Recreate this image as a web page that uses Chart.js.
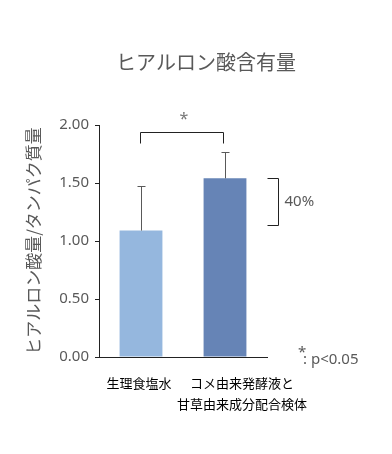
<!DOCTYPE html>
<html>
<head>
<meta charset="utf-8">
<script src="https://cdn.jsdelivr.net/npm/chart.js@4.4.1/dist/chart.umd.min.js"></script>
<style>
  html, body { margin: 0; padding: 0; background: #fff; }
  canvas { display: block; }
</style>
</head>
<body>
<canvas id="chart" width="392" height="454"></canvas>
<script>
const categories = [["生理食塩水"], ["コメ由来発酵液と", "甘草由来成分配合検体"]];
const values = [1.09, 1.54];
const errors = [0.38, 0.23];
const barColors = ["#95b7de", "#6684b6"];
const yTicks = [0, 0.5, 1, 1.5, 2];
const labelShift = [-2, 17]; // Excelのラベル位置ずれ
const pctRange = [1.14, 1.54]; // 40% の括弧の範囲
const sigLevel = 1.94;

const gray = "#595959";
const jp = '"Noto Sans CJK JP", "Noto Sans", sans-serif';

// 誤差棒・有意差・注釈
const extras = {
  id: "extras",
  afterDatasetsDraw(chart) {
    const { ctx, scales } = chart;
    const x = scales.x, y = scales.y;
    ctx.save();
    ctx.lineWidth = 1;

    // 誤差棒（上側のみ）
    ctx.strokeStyle = gray;
    values.forEach((v, i) => {
      const cx = Math.round(x.getPixelForValue(i)) + 0.5;
      const top = Math.round(y.getPixelForValue(v + errors[i])) + 0.5;
      const base = y.getPixelForValue(v);
      ctx.beginPath();
      ctx.moveTo(cx, base);
      ctx.lineTo(cx, top);
      ctx.moveTo(cx - 4, top);
      ctx.lineTo(cx + 4, top);
      ctx.stroke();
    });

    // 有意差の括弧
    ctx.strokeStyle = "#222";
    const x1 = Math.round(x.getPixelForValue(0)) - 0.5;
    const x2 = Math.round(x.getPixelForValue(1)) - 1.5;
    const sy = Math.round(y.getPixelForValue(sigLevel)) + 0.5;
    ctx.beginPath();
    ctx.moveTo(x1, sy + 11);
    ctx.lineTo(x1, sy);
    ctx.lineTo(x2, sy);
    ctx.lineTo(x2, sy + 11);
    ctx.stroke();
    ctx.fillStyle = "#777";
    ctx.font = '16px "Noto Sans", sans-serif';
    ctx.textAlign = "center";
    ctx.textBaseline = "middle";
    ctx.fillText("*", (x1 + x2) / 2 + 2, sy - 13);

    // 40% の括弧
    ctx.fillStyle = gray;
    const bx = Math.round(x.right) + 11.5;
    const t = Math.round(y.getPixelForValue(pctRange[1])) + 0.5;
    const b = Math.round(y.getPixelForValue(pctRange[0])) + 0.5;
    ctx.beginPath();
    ctx.moveTo(bx - 11, t);
    ctx.lineTo(bx, t);
    ctx.lineTo(bx, b);
    ctx.lineTo(bx - 11, b);
    ctx.stroke();
    ctx.font = '15px "Noto Sans", sans-serif';
    ctx.textAlign = "left";
    ctx.fillText("40%", bx + 6, (t + b) / 2);

    // 凡例注記
    const ly = y.getPixelForValue(0);
    ctx.fillText("*", x.right + 31, ly - 4);
    ctx.fillText(": p<0.05", x.right + 36, ly + 3);

    // タイトル
    ctx.font = "20px " + jp;
    ctx.textAlign = "center";
    ctx.fillText("ヒアルロン酸含有量", 206, 62);

    // x ラベル
    ctx.fillStyle = "#000";
    ctx.font = "13px " + jp;
    categories.forEach((lines, i) => {
      const cx = x.getPixelForValue(i) + labelShift[i];
      lines.forEach((s, k) => {
        ctx.fillText(s, cx, y.bottom + 26 + k * 21);
      });
    });
    ctx.restore();
  }
};

new Chart(document.getElementById("chart"), {
  type: "bar",
  data: {
    labels: categories,
    datasets: [{
      data: values,
      backgroundColor: barColors,
      borderWidth: 0,
      barPercentage: 0.51,
      categoryPercentage: 1
    }]
  },
  options: {
    responsive: false,
    animation: false,
    devicePixelRatio: 1,
    layout: { padding: { top: 125, right: 125, left: 0, bottom: 0 } },
    plugins: { legend: { display: false }, tooltip: { enabled: false } },
    scales: {
      x: {
        grid: { display: false },
        border: { display: true, color: "#222", width: 1 },
        ticks: { display: false },
        afterFit(scale) { scale.height = 97; }
      },
      y: {
        min: 0,
        max: 2,
        afterBuildTicks(scale) { scale.ticks = yTicks.map(v => ({ value: v })); },
        grid: { drawOnChartArea: false, drawTicks: true, tickLength: 4, color: "#222" },
        border: { display: true, color: "#222", width: 1 },
        ticks: {
          padding: 6,
          color: gray,
          font: { family: '"Noto Sans", sans-serif', size: 15 },
          callback: v => v.toFixed(2)
        },
        title: {
          display: true,
          text: "ヒアルロン酸量/タンパク質量",
          color: gray,
          font: { family: jp, size: 17 },
          padding: { top: 23, bottom: 0 }
        },
        afterFit(scale) { scale.width = 99; }
      }
    }
  },
  plugins: [extras]
});
</script>
</body>
</html>
